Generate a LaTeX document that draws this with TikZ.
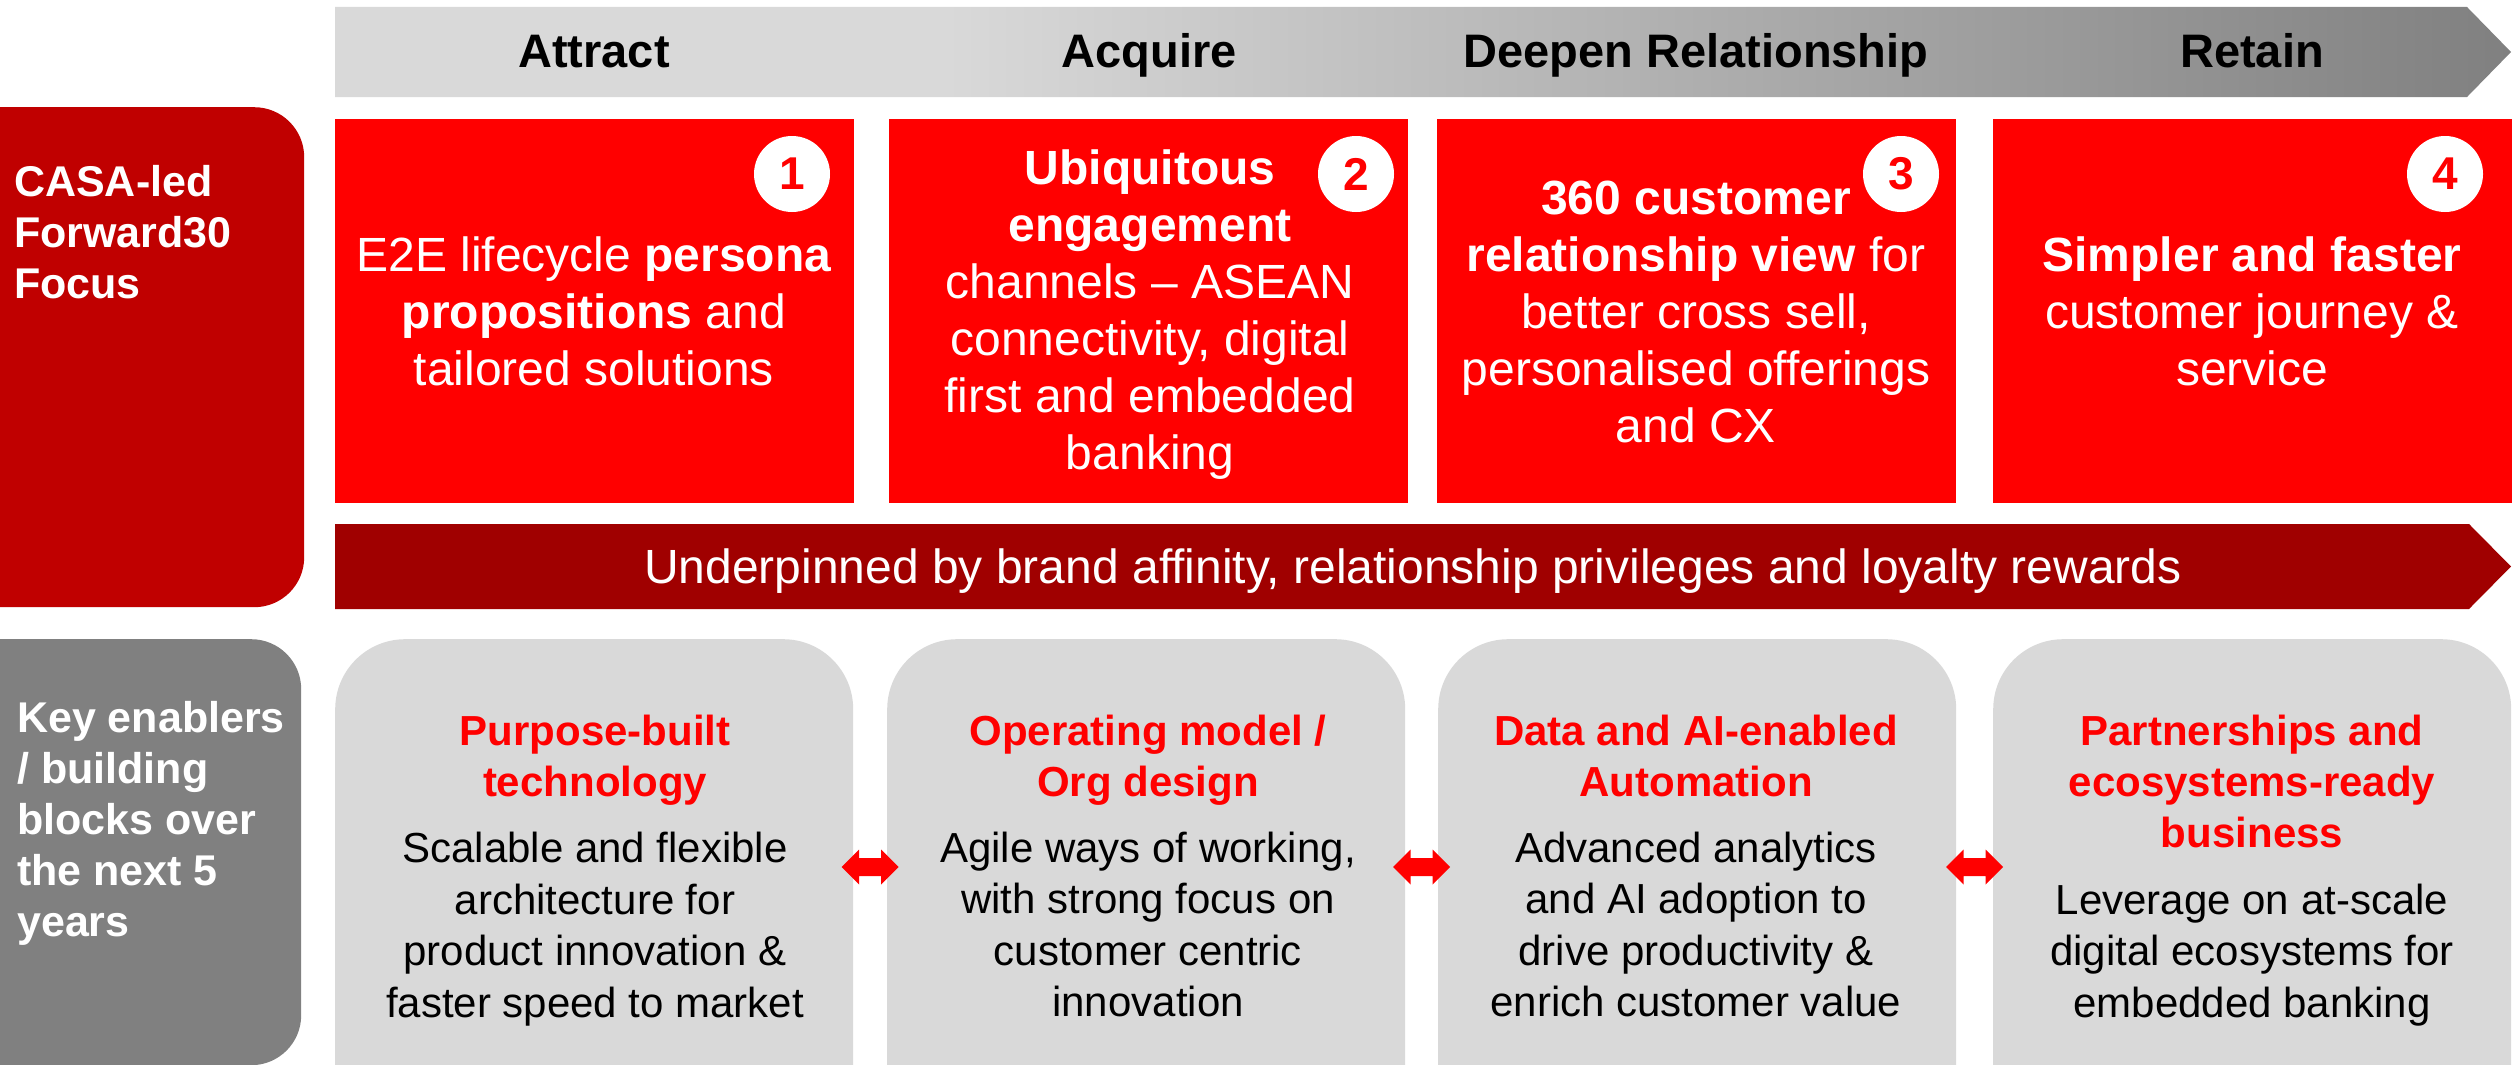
\documentclass[tikz,border=0pt]{standalone}
\usepackage{fontspec}
\setmainfont{Liberation Sans}
\definecolor{gA}{RGB}{217,217,217}
\definecolor{gB}{RGB}{128,128,128}
\definecolor{casared}{RGB}{192,0,0}
\definecolor{underred}{RGB}{160,0,0}
\definecolor{boxred}{RGB}{255,0,0}
\definecolor{keygray}{RGB}{128,128,128}
\definecolor{cardgray}{RGB}{217,217,217}
\pgfdeclarehorizontalshading{topgrad}{100bp}{color(0bp)=(gA); color(25bp)=(gA); color(39bp)=(gA); color(75bp)=(gB); color(100bp)=(gB)}
\newcommand\dblarrowat[1]{%
  \fill[boxred] ([xshift=-28.5pt]#1) -- ([xshift=-11pt,yshift=17.5pt]#1) -- ([xshift=-11pt,yshift=9pt]#1)
    -- ([xshift=11pt,yshift=9pt]#1) -- ([xshift=11pt,yshift=17.5pt]#1) -- ([xshift=28.5pt]#1)
    -- ([xshift=11pt,yshift=-17.5pt]#1) -- ([xshift=11pt,yshift=-9pt]#1) -- ([xshift=-11pt,yshift=-9pt]#1)
    -- ([xshift=-11pt,yshift=-17.5pt]#1) -- cycle;}
\begin{document}
\begin{tikzpicture}[x=1pt,y=-1pt,
  headtxt/.style={anchor=base, inner sep=0pt, text=black, font=\bfseries\fontsize{47}{56}\selectfont},
  redbox/.style={fill=boxred, draw=none, anchor=north west, minimum width=519pt, minimum height=384pt, inner sep=0pt},
  redtxt/.style={text=white, align=center, inner sep=0pt, font=\fontsize{48}{57}\selectfont},
  numc/.style={circle, fill=white, minimum size=76pt, inner sep=0pt, text=boxred, font=\bfseries\fontsize{46}{46}\selectfont},
  sidebox/.style={draw=none, anchor=north west, rounded corners=50pt, inner sep=0pt},
  sidetxt/.style={text=white, align=left, inner sep=0pt, anchor=west, font=\bfseries\fontsize{43}{51}\selectfont},
  card/.style={fill=cardgray, draw=none, anchor=north west, rounded corners=70pt, minimum width=518pt, minimum height=520pt, inner sep=0pt},
  cardhead/.style={text=boxred, align=center, inner sep=0pt, font=\bfseries\fontsize{42}{51}\selectfont},
  cardbody/.style={text=black, align=center, inner sep=0pt, font=\fontsize{42}{51.5}\selectfont},
  undertxt/.style={anchor=base, inner sep=0pt, text=white, font=\fontsize{48}{57}\selectfont}
]
\useasboundingbox (0,0) rectangle (2514,1065);

% top journey arrow
\shade[shading=topgrad] (335,7) -- (2467,7) -- (2511,52) -- (2467,97) -- (335,97) -- cycle;
\node[headtxt] (hA) at (594,68) {Attract};
\node[headtxt] (hB) at (1149,68) {Acquire};
\node[headtxt] (hC) at (1696,68) {Deepen Relationship};
\node[headtxt] (hD) at (2252,68) {Retain};

% left labels
\node[sidebox, fill=casared, minimum width=364pt, minimum height=500pt] (casa) at (-60,107) {};
\node[sidetxt] (casat) at (14,232) {CASA-led\\Forward30\\Focus};
\node[sidebox, fill=keygray, minimum width=361pt, minimum height=426pt] (key) at (-60,639) {};
\node[sidetxt] (keyt) at (17,823.5) {Key enablers\\/ building\\blocks over\\the next 5\\years};

% red boxes
\node[redbox] (b1) at (335,119) {};
\node[redbox] (b2) at (889,119) {};
\node[redbox] (b3) at (1437,119) {};
\node[redbox] (b4) at (1993,119) {};

\node[numc] (n1) at (792,174) {1};
\node[numc] (n2) at (1356,174) {2};
\node[numc] (n3) at (1901,174) {3};
\node[numc] (n4) at (2445,174) {4};

\node[redtxt] (t1) at (594,311) {E2E lifecycle \textbf{persona}\\\textbf{propositions} and\\tailored solutions};
\node[redtxt] (t2) at (1150,315) {\textbf{Ubiquitous}\\\textbf{engagement}\\channels -- ASEAN\\connectivity, digital\\first and embedded\\banking};
\node[redtxt] (t3) at (1696,311.5) {\textbf{360 customer}\\\textbf{relationship view} for\\better cross sell,\\personalised offerings\\and CX};
\node[redtxt] (t4) at (2252,311) {\textbf{Simpler and faster}\\customer journey \&\\service};

% underpinning arrow
\fill[underred] (335,524) -- (2469,524) -- (2511,566.5) -- (2469,609) -- (335,609) -- cycle;
\node[undertxt] (ut) at (1413,583) {Underpinned by brand affinity, relationship privileges and loyalty rewards};

% enabler cards
\node[card] (c1) at (335,639) {};
\node[card] (c2) at (887,639) {};
\node[card] (c3) at (1438,639) {};
\node[card] (c4) at (1993,639) {};

\node[cardhead] (h1) at (595,760.5) {Purpose-built\\technology};
\node[cardhead] (h2) at (1148,760.5) {Operating model /\\Org design};
\node[cardhead] (h3) at (1696,756) {Data and AI-enabled\\Automation};
\node[cardhead] (h4) at (2252,781) {Partnerships and\\ecosystems-ready\\business};

\node[cardbody] (d1) at (595,929) {Scalable and flexible\\architecture for\\product innovation \&\\faster speed to market};
\node[cardbody] (d2) at (1148,924.5) {Agile ways of working,\\with strong focus on\\customer centric\\innovation};
\node[cardbody] (d3) at (1696,924.5) {Advanced analytics\\and AI adoption to\\drive productivity \&\\enrich customer value};
\node[cardbody] (d4) at (2252,955) {Leverage on at-scale\\digital ecosystems for\\embedded banking};

% connectors between cards (double block arrows)
\coordinate (arrowrow) at (0,867);
\path (c1.east |- arrowrow) -- (c2.west |- arrowrow) coordinate[midway] (a12);
\path (c2.east |- arrowrow) -- (c3.west |- arrowrow) coordinate[midway] (a23);
\path (c3.east |- arrowrow) -- (c4.west |- arrowrow) coordinate[midway] (a34);
\dblarrowat{a12}
\dblarrowat{a23}
\dblarrowat{a34}
\end{tikzpicture}
\end{document}
